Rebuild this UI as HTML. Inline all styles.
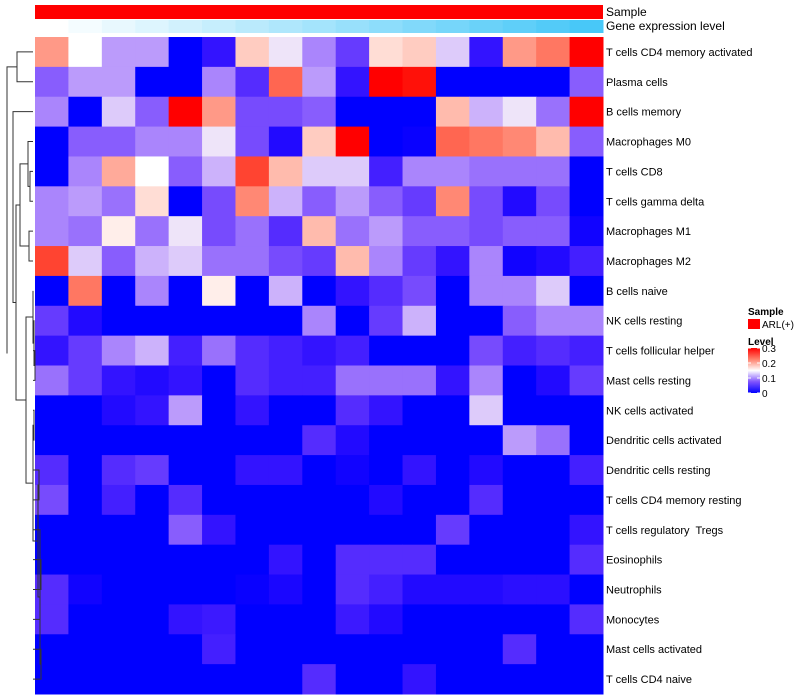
<!DOCTYPE html>
<html><head><meta charset="utf-8"><style>
body{margin:0;background:#fff;font-family:"Liberation Sans",sans-serif}
svg{display:block}
text{white-space:pre}
</style></head><body>
<svg id="c" width="800" height="700" xmlns="http://www.w3.org/2000/svg"></svg>
<script>
const rowLabels=["T cells CD4 memory activated","Plasma cells","B cells memory","Macrophages M0","T cells CD8","T cells gamma delta","Macrophages M1","Macrophages M2","B cells naive","NK cells resting","T cells follicular helper","Mast cells resting","NK cells activated","Dendritic cells activated","Dendritic cells resting","T cells CD4 memory resting","T cells regulatory  Tregs","Eosinophils","Neutrophils","Monocytes","Mast cells activated","T cells CD4 naive"];
const values=[
[.21,.15,.11,.11,0,.03,.18,.14,.10,.06,.17,.18,.13,.03,.21,.23,.30],
[.08,.11,.11,0,0,.10,.05,.24,.11,.03,.30,.29,0,0,0,0,.08],
[.10,0,.13,.08,.30,.21,.07,.07,.08,0,0,0,.19,.12,.14,.09,.30],
[0,.08,.08,.10,.10,.14,.07,.02,.18,.30,0,.005,.24,.23,.22,.19,.08],
[0,.10,.20,.15,.08,.12,.26,.19,.13,.13,.04,.10,.10,.09,.09,.09,0],
[.10,.11,.09,.17,0,.07,.22,.12,.08,.11,.08,.06,.22,.07,.02,.07,0],
[.10,.09,.16,.09,.14,.07,.09,.05,.19,.09,.11,.08,.08,.07,.08,.08,.01],
[.26,.13,.08,.12,.13,.09,.09,.07,.06,.19,.10,.06,.03,.10,.01,.02,.04],
[0,.23,0,.10,0,.16,0,.12,0,.03,.05,.07,0,.10,.10,.13,0],
[.06,.02,0,0,0,0,0,0,.10,0,.06,.12,0,0,.08,.10,.10],
[.03,.06,.10,.12,.04,.09,.05,.04,.03,.04,0,0,0,.07,.04,.05,.04],
[.09,.06,.03,.02,.03,0,.05,.04,.04,.09,.09,.09,.03,.10,0,.02,.06],
[0,0,.02,.03,.11,0,.03,0,0,.05,.03,0,0,.13,0,0,0],
[0,0,0,0,0,0,0,0,.05,.02,0,0,0,0,.11,.09,0],
[.05,0,.05,.06,0,0,.03,.03,0,.01,0,.03,0,.02,0,0,.04],
[.07,0,.04,0,.05,0,0,0,0,0,.02,0,0,.05,0,0,0],
[0,0,0,0,.08,.03,0,0,0,0,0,0,.06,0,0,0,.03],
[0,0,0,0,0,0,0,.03,0,.05,.05,.05,0,0,0,0,.05],
[.05,.01,0,0,0,0,.005,.015,0,.05,.04,.02,.02,.02,.025,.025,0],
[.05,0,0,0,.03,.035,0,0,0,.035,.02,0,0,0,0,0,.05],
[0,0,0,0,0,.04,0,0,0,0,0,0,0,0,.05,0,0],
[0,0,0,0,0,0,0,0,.05,0,0,.03,0,0,0,0,0]];
const geneLevel=[0,1,2,3,4,5,6,7,8,9,10,11,12,13,14,15,16];
const legendTicks=[0,0.1,0.2,0.3];

const NS="http://www.w3.org/2000/svg",svg=document.getElementById('c');
function mk(t,a,p){const e=document.createElementNS(NS,t);for(const k in a)e.setAttribute(k,a[k]);(p||svg).appendChild(e);return e;}
const X0=35,X1=603,Y0=37,Y1=694,nC=values[0].length,nR=rowLabels.length;
const cw=(X1-X0)/nC,rh=(Y1-Y0)/nR;
const xs=i=>X0+i*cw, ys=j=>Y0+j*rh;
function col(v){v=Math.max(0,Math.min(.3,v));
 if(v<.15){const t=v/.15;const r=Math.round(255*t),g=Math.round(255*Math.pow(t,1.6)),b=Math.round(255-7*Math.pow(t,2));return `rgb(${r},${g},${b})`;}
 const s=1-(v-.15)/.15;const g=Math.round(255*s),b=Math.round(255*Math.pow(s,1.25));return `rgb(255,${g},${b})`;}
const sb=mk('rect',{x:X0,y:5,width:X1-X0,height:14,fill:'#ff0000'});


geneLevel.forEach((g,i)=>{const t=g/(geneLevel.length-1);
 const r=Math.round(255+(72-255)*t),gg=Math.round(255+(200-255)*t),b=Math.round(255+(248-255)*t);
 const e=mk('rect',{x:xs(i),y:20,width:cw+0.5,height:13,fill:`rgb(${r},${gg},${b})`});
 
 });
const t1=mk('text',{x:606,y:16,'font-size':12,fill:'#000'});t1.textContent='Sample';


const t2=mk('text',{x:606,y:30,'font-size':12,fill:'#000'});t2.textContent='Gene expression level';


values.forEach((row,j)=>row.forEach((v,i)=>{
 const e=mk('rect',{x:xs(i),y:ys(j),width:cw+0.5,height:rh+0.5,fill:col(v)});
 
 }));
rowLabels.forEach((l,j)=>{const e=mk('text',{x:606,y:ys(j)+rh/2+4,'font-size':11,fill:'#000'});e.textContent=l;
 
 });
const g=mk('g',{stroke:'#333','stroke-width':1,fill:'none'});


function node(t){if(typeof t==='number')return{y:ys(t)+rh/2,x:X0-2};
 const a=node(t[0]),b=node(t[1]);const h=t[2];
 mk('path',{d:`M${a.x},${a.y}H${h}V${b.y}H${b.x}`},g);return{y:(a.y+b.y)/2,x:h};}
const tree=[[0,1,17],[[2,[[[3,[4,5,30],28],[6,7,29],20],[[8,[9,[10,11,35],34],33],[[12,13,34],[[14,15,39],[[16,[17,18,41],40],[19,[20,21,41],40],40],38],33],26],16],13],15],7];
node(tree);
const lg=mk('g',{});
mk('text',{x:748,y:315,'font-size':10,'font-weight':'bold'},lg).textContent='Sample';
mk('rect',{x:748,y:319,width:12,height:10,fill:'#ff0000'},lg);
mk('text',{x:762,y:328,'font-size':10},lg).textContent='ARL(+)';
mk('text',{x:748,y:345,'font-size':10,'font-weight':'bold'},lg).textContent='Level';
const defs=mk('defs',{});const gr=mk('linearGradient',{id:'lgd',x1:0,y1:1,x2:0,y2:0},defs);
[0,.25,.5,.75,1].forEach(o=>mk('stop',{offset:o,'stop-color':col(o*.3)},gr));
const lT=348,lB=393;
mk('rect',{x:748,y:lT,width:12,height:lB-lT,fill:'url(#lgd)'},lg);
legendTicks.forEach(v=>{const y=lB-(v/.3)*(lB-lT);
 mk('line',{x1:748,x2:751,y1:y,y2:y,stroke:'#fff'},lg);mk('line',{x1:757,x2:760,y1:y,y2:y,stroke:'#fff'},lg);
 const e=mk('text',{x:762,y:y+4,'font-size':10},lg);e.textContent=String(v);
 
 });
</script>
</body></html>
